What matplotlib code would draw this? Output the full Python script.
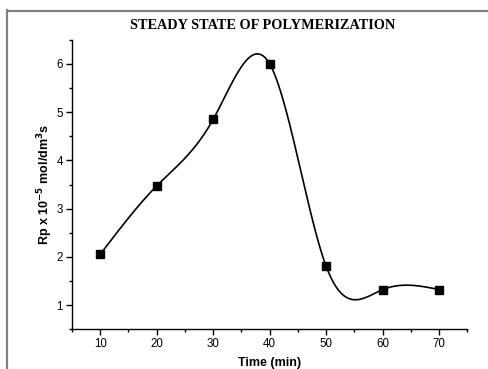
import numpy as np
import matplotlib
matplotlib.use("Agg")
import matplotlib.pyplot as plt
from matplotlib.ticker import MultipleLocator

# ----------------------------
# Data
# ----------------------------
time_min = [10, 20, 30, 40, 50, 60, 70]
rp = [2.05, 3.47, 4.85, 6.0, 1.8, 1.32, 1.32]


def natural_spline(x, y, n=400):
    # plain natural cubic spline, no scipy needed
    x = np.asarray(x, float)
    y = np.asarray(y, float)
    k = len(x)
    h = np.diff(x)
    A = np.zeros((k, k))
    b = np.zeros(k)
    A[0, 0] = A[-1, -1] = 1
    for i in range(1, k - 1):
        A[i, i - 1] = h[i - 1]
        A[i, i] = 2 * (h[i - 1] + h[i])
        A[i, i + 1] = h[i]
        b[i] = 6 * ((y[i + 1] - y[i]) / h[i] - (y[i] - y[i - 1]) / h[i - 1])
    M = np.linalg.solve(A, b)
    xs = np.linspace(x[0], x[-1], n)
    idx = np.clip(np.searchsorted(x, xs) - 1, 0, k - 2)
    x0, x1 = x[idx], x[idx + 1]
    hh = x1 - x0
    ys = (M[idx] * (x1 - xs) ** 3 / (6 * hh) + M[idx + 1] * (xs - x0) ** 3 / (6 * hh)
          + (y[idx] / hh - M[idx] * hh / 6) * (x1 - xs)
          + (y[idx + 1] / hh - M[idx + 1] * hh / 6) * (xs - x0))
    return xs, ys


fig = plt.figure(figsize=(4.89, 3.69), dpi=100)
ax = fig.add_axes([0.147, 0.108, 0.809, 0.784])

xs, ys = natural_spline(time_min, rp)
ax.plot(xs, ys, color="black", lw=1.2)
ax.plot(time_min, rp, ls="none", marker="s", ms=6.2, color="black")

ax.set_xlim(5, 75)
ax.set_ylim(0.5, 6.5)
ax.xaxis.set_major_locator(MultipleLocator(10))
ax.xaxis.set_minor_locator(MultipleLocator(5))
ax.yaxis.set_major_locator(MultipleLocator(1))
ax.yaxis.set_minor_locator(MultipleLocator(0.5))
ax.spines["top"].set_visible(False)
ax.spines["right"].set_visible(False)
for s in ("left", "bottom"):
    ax.spines[s].set_linewidth(1.0)
ax.tick_params(which="major", direction="out", length=4, width=1,
               labelsize=8.3, pad=2.5)
ax.tick_params(which="minor", direction="out", length=2, width=1)
for lab in ax.get_xticklabels() + ax.get_yticklabels():
    lab.set_fontfamily("Liberation Sans")

ax.set_xlabel("Time (min)", family="Liberation Sans", fontweight="bold",
              fontsize=9, labelpad=5)
ax.set_ylabel(r"Rp x 10$^{\mathbf{-5}}$ mol/dm$^{\mathbf{3}}$s",
              family="Liberation Sans", fontweight="bold", fontsize=9,
              labelpad=1)

fig.text(0.538, 0.932, "STEADY STATE OF POLYMERIZATION",
         family="Liberation Serif", fontweight="bold", fontsize=10.3,
         ha="center", va="center")

# grey frame around the plot (top and left edges only visible)
fig.add_artist(plt.Line2D([7 / 489, 1], [1 - 10.5 / 369] * 2,
                          transform=fig.transFigure, color="#808080", lw=1.6))
fig.add_artist(plt.Line2D([7.5 / 489] * 2, [0, 1 - 10 / 369],
                          transform=fig.transFigure, color="#808080", lw=1.6))

fig.savefig("out.png", dpi=100)
